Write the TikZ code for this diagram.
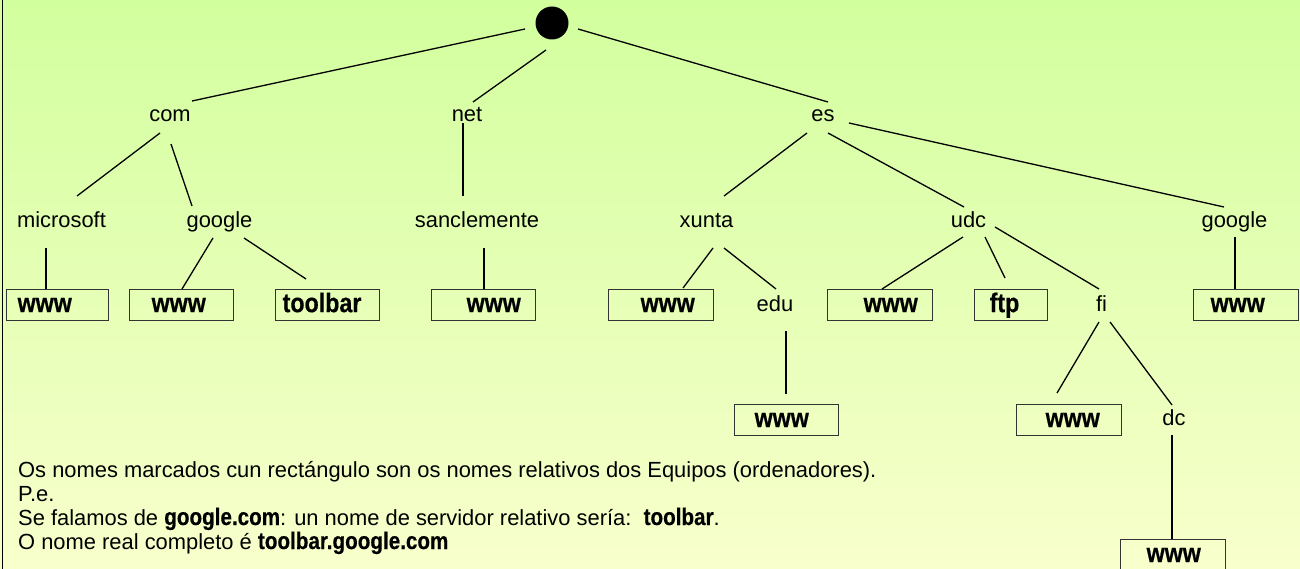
\documentclass[tikz,border=0pt]{standalone}
\usepackage{fontspec}
\setmainfont{Liberation Sans}
\newfontfamily\heavyfont{Liberation Sans}[FakeStretch=0.86,FakeBold=0.5]
\newfontfamily\heavynote{Liberation Sans}[FakeStretch=0.86,FakeBold=0.4]
\newcommand{\hbold}[1]{{\heavynote\bfseries\fontsize{24}{26}\selectfont #1}}
\begin{document}
\begin{tikzpicture}[x=1pt,y=-1pt,
  lbl/.style={inner sep=0pt, anchor=base, font=\fontsize{21.9}{26}\selectfont},
  hostbox/.style={draw=black!80, line width=1.3pt, inner sep=0pt, anchor=north west,
    minimum height=31pt, text height=19pt, text depth=5pt, align=left,
    font=\heavyfont\bfseries\fontsize{27}{30}\selectfont},
  edge/.style={line width=1.3pt},
  vedge/.style={line width=1.9pt},
  note/.style={inner sep=0pt, anchor=base west, font=\fontsize{21.9}{26}\selectfont}]
\shade[top color={rgb,255:red,210;green,255;blue,158}, bottom color={rgb,255:red,248;green,255;blue,204}] (0,0) rectangle (1300,569);
\useasboundingbox (0,0) rectangle (1300,569);
\draw[line width=1.5pt] (2.5,0) -- (2.5,569);

% nodes
\node[circle, fill=black, minimum size=33pt, inner sep=0pt] (root) at (552,23) {};
\node[lbl] (com) at (170,122) {com};
\node[lbl] (net) at (467,122) {net};
\node[lbl] (es) at (823,122) {es};
\node[lbl] (ms) at (61.5,228) {microsoft};
\node[lbl] (gc) at (219.5,228) {google};
\node[lbl] (sc) at (477,228) {sanclemente};
\node[lbl] (xu) at (706.5,228) {xunta};
\node[lbl] (udc) at (968.5,228) {udc};
\node[lbl] (ge) at (1234.5,228) {google};
\node[lbl] (edu) at (775,311) {edu};
\node[lbl] (fi) at (1101.5,311) {fi};
\node[lbl] (dc) at (1174,425) {dc};

\node[hostbox, text width=102pt] (b1) at (6,289) {\hspace*{11pt}www};
\node[hostbox, text width=104pt] (b2) at (129,289) {\hspace*{22pt}www};
\node[hostbox, text width=104pt] (b3) at (275,289) {\hspace*{7pt}toolbar};
\node[hostbox, text width=104pt] (b4) at (431,289) {\hspace*{35pt}www};
\node[hostbox, text width=105pt] (b5) at (608,289) {\hspace*{32pt}www};
\node[hostbox, text width=104pt] (b6) at (734,404) {\hspace*{20pt}www};
\node[hostbox, text width=105pt] (b7) at (827,289) {\hspace*{36pt}www};
\node[hostbox, text width=73pt] (b8) at (974,289) {\hspace*{15pt}ftp};
\node[hostbox, text width=105pt] (b9) at (1016,404) {\hspace*{29pt}www};
\node[hostbox, text width=105pt] (b10) at (1193,289) {\hspace*{17pt}www};
\node[hostbox, text width=105pt] (b11) at (1120,539) {\hspace*{26pt}www};

% connectors
\draw[edge] ([shift={(-27,6)}]root.center) -- ([shift={(22,-21)}]com.base);
\draw[edge] ([shift={(-6,27)}]root.center) -- ([shift={(6,-20)}]net.base);
\draw[edge] ([shift={(26,6)}]root.center) -- ([shift={(5,-20)}]es.base);
\draw[edge] ([shift={(-10,11)}]com.base) -- ([shift={(15.5,-32)}]ms.base);
\draw[edge] ([shift={(1,22)}]com.base) -- ([shift={(-27.5,-22)}]gc.base);
\draw[vedge] ([shift={(-4,1)}]net.base) -- ([shift={(-14,-32)}]sc.base);
\draw[edge] ([shift={(-16,11)}]es.base) -- ([shift={(17.5,-32)}]xu.base);
\draw[edge] ([shift={(5,11)}]es.base) -- ([shift={(-4.5,-21)}]udc.base);
\draw[edge] ([shift={(26,1)}]es.base) -- ([shift={(-10.5,-21)}]ge.base);
\draw[vedge] ([shift={(-15.5,20)}]ms.base) -- ([shift={(40,0)}]b1.north west);
\draw[edge] ([shift={(-6.5,10)}]gc.base) -- ([shift={(53,0)}]b2.north west);
\draw[edge] ([shift={(24.5,10)}]gc.base) -- ([shift={(31,-10)}]b3.north west);
\draw[vedge] ([shift={(7,20)}]sc.base) -- ([shift={(53,0)}]b4.north west);
\draw[edge] ([shift={(6.5,20)}]xu.base) -- ([shift={(75,-1)}]b5.north west);
\draw[edge] ([shift={(17.5,20)}]xu.base) -- ([shift={(1,-22)}]edu.base);
\draw[vedge] ([shift={(11,20)}]edu.base) -- ([shift={(52,-10)}]b6.north west);
\draw[edge] ([shift={(-5.5,9)}]udc.base) -- ([shift={(55,0)}]b7.north west);
\draw[edge] ([shift={(16.5,9)}]udc.base) -- ([shift={(31,-11)}]b8.north west);
\draw[edge] ([shift={(26.5,-1)}]udc.base) -- ([shift={(-2.5,-22)}]fi.base);
\draw[vedge] ([shift={(0.5,9)}]ge.base) -- ([shift={(42,0)}]b10.north west);
\draw[edge] ([shift={(-2.5,11)}]fi.base) -- ([shift={(41,-11)}]b9.north west);
\draw[edge] ([shift={(8.5,11)}]fi.base) -- ([shift={(-2,-20)}]dc.base);
\draw[vedge] ([shift={(-2,10)}]dc.base) -- ([shift={(52,0)}]b11.north west);

% notes
\node[note] (n1) at (18,477.5) {Os nomes marcados cun rectángulo son os nomes relativos dos Equipos (ordenadores).};
\node[note] (n2) at (18,501.5) {P.e.};
\node[note] (n3) at (18,525) {Se falamos de \hbold{google.com}: un nome de servidor relativo sería:\ \ \hbold{toolbar}.};
\node[note] (n4) at (18,549) {O nome real completo é \hbold{toolbar.google.com}};
\end{tikzpicture}
\end{document}
